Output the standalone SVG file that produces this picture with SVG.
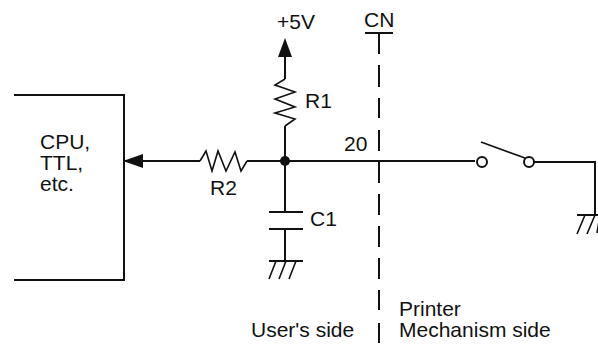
<svg xmlns="http://www.w3.org/2000/svg" width="598" height="346" viewBox="0 0 598 346">
<style>
text{font-family:"Liberation Sans",Arial,sans-serif;font-size:21px;fill:#111}
.w{fill:none;stroke:#111;stroke-width:2}
.t{fill:none;stroke:#111;stroke-width:1.6}
.h{fill:#111;stroke:none}
</style>
<rect width="598" height="346" fill="#fff"/>
<g id="connectors">
<path class="w" d="M124 161H200M247 161H475"/>
<path class="w" d="M285 57V79M285 126V212M285 229V261"/>
<path class="w" d="M534 162H595V215"/>
<path class="w" d="M379 33V54M379 65V87M379 98V118M379 130V151M379 161V183M379 194V215M379 226V247M379 258V279M379 290V310M379 323V343"/>
</g>
<g id="cpu">
<path class="w" d="M14 95H124V280H14"/>
<path class="h" d="M123 161L143 154V168Z"/>
<text x="40" y="149">CPU,</text><text x="40" y="170">TTL,</text><text x="40" y="191">etc.</text>
</g>
<g id="r2">
<path class="t" d="M200 161L206 151L212 171L218 151L226 171L235 152L241 171L247 161"/>
<text x="210" y="195">R2</text>
</g>
<g id="r1">
<path class="t" d="M285 79L275 85L295 92L275 99L295 107L275 113L295 119L285 126"/>
<path class="h" d="M285 38L292 57H278Z"/>
<text x="277" y="29">+5V</text>
<text x="305" y="108">R1</text>
</g>
<g id="junction"><circle class="h" cx="285" cy="161" r="5"/></g>
<g id="c1">
<path class="w" d="M269 212H303M269 229H303"/>
<text x="310" y="226">C1</text>
</g>
<g id="gnd1">
<path class="w" d="M269 261H303"/>
<path class="t" d="M276 261L269 279M286 261L279 279M296 261L289 279"/>
</g>
<g id="cn">
<path class="w" d="M365 33H393"/>
<text x="364" y="27">CN</text>
<text x="344" y="151">20</text>
</g>
<g id="switch">
<circle class="w" cx="482" cy="162" r="5" />
<circle class="w" cx="529" cy="162" r="5" />
<path class="t" d="M481 142L525 158"/>
</g>
<g id="gnd2">
<path class="w" d="M577 215H598"/>
<path class="t" d="M585 215L577 234M595 215L587 234M600 215L597 233"/>
</g>
<g id="labels">
<text x="251" y="337">User's side</text>
<text x="399" y="316">Printer</text>
<text x="399" y="337">Mechanism side</text>
</g>
</svg>
